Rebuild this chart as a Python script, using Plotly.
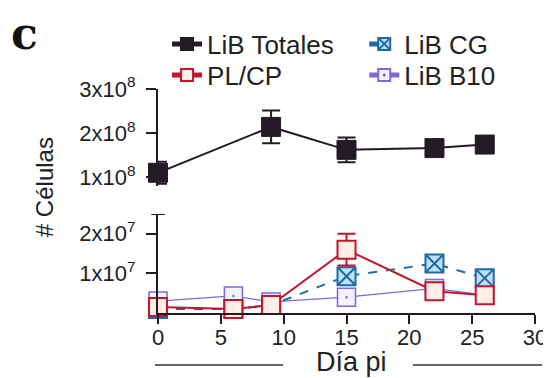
import plotly.graph_objects as go

# ---- data ----
days_total = [0, 9, 15, 22, 26]
lib_totales = [1.10e8, 2.14e8, 1.62e8, 1.66e8, 1.74e8]
lib_totales_err = [0.25e8, 0.37e8, 0.28e8, 0.10e8, 0.10e8]

days = [0, 6, 9, 15, 22, 26]
pl_cp = [0.15e7, 0.10e7, 0.20e7, 1.60e7, 0.55e7, 0.45e7]
pl_cp_err = [0.05e7, 0.05e7, 0.05e7, 0.40e7, 0.05e7, 0.05e7]
lib_cg = [0.10e7, 0.10e7, 0.20e7, 0.93e7, 1.25e7, 0.88e7]
lib_b10 = [0.30e7, 0.43e7, 0.28e7, 0.40e7, 0.62e7, 0.45e7]

x_ticks = [0, 5, 10, 15, 20, 25, 30]
upper_ticks = [1e8, 2e8, 3e8]
upper_ticktext = ["1x10<sup>8</sup>", "2x10<sup>8</sup>", "3x10<sup>8</sup>"]
lower_ticks = [1e7, 2e7]
lower_ticktext = ["1x10<sup>7</sup>", "2x10<sup>7</sup>"]

FONT = "Liberation Sans, Arial, sans-serif"
BLACK = "#231a26"
RED = "#c4152c"
BLUE = "#1f6aa5"
PURPLE = "#7a6ad8"

fig = go.Figure()

fig.add_trace(go.Scatter(
    x=days_total, y=lib_totales, name="LiB Totales", legend="legend",
    mode="lines+markers", xaxis="x", yaxis="y2", cliponaxis=False,
    line=dict(color=BLACK, width=2),
    marker=dict(symbol="square", size=19, color=BLACK, line=dict(color=BLACK, width=1)),
    error_y=dict(type="data", array=lib_totales_err, color=BLACK, thickness=2, width=9),
))
fig.add_trace(go.Scatter(
    x=days, y=lib_b10, name="LiB B10", legend="legend4",
    mode="lines+markers", xaxis="x", yaxis="y", cliponaxis=False,
    line=dict(color=PURPLE, width=1.2),
    marker=dict(symbol="square-dot", size=18, color="#f4f2ff", line=dict(color=PURPLE, width=1.5)),
))
fig.add_trace(go.Scatter(
    x=days, y=lib_cg, name="LiB CG", legend="legend2",
    mode="lines+markers", xaxis="x", yaxis="y", cliponaxis=False,
    line=dict(color=BLUE, width=2, dash="dash"),
    marker=dict(symbol="square-x", size=18, color="#bfe0f2", line=dict(color=BLUE, width=2)),
))
fig.add_trace(go.Scatter(
    x=days, y=pl_cp, name="PL/CP", legend="legend3",
    mode="lines+markers", xaxis="x", yaxis="y", cliponaxis=False,
    line=dict(color=RED, width=2),
    marker=dict(symbol="square", size=18, color="#fdeee6", line=dict(color=RED, width=2)),
    error_y=dict(type="data", array=pl_cp_err, color=RED, thickness=2, width=9),
))

axis_common = dict(showgrid=False, zeroline=False, showline=True, linecolor=BLACK,
                   linewidth=2, ticks="outside", tickwidth=2, tickcolor=BLACK,
                   tickfont=dict(family=FONT, size=22, color="#222"))


def leg(x, y):
    return dict(x=x, y=y, xanchor="left", yanchor="middle", orientation="v",
                font=dict(family=FONT, size=26, color="#222"),
                bgcolor="rgba(0,0,0,0)", itemsizing="constant")


fig.update_layout(
    width=543, height=370,
    margin=dict(l=150, r=16, t=81, b=65, autoexpand=False),
    paper_bgcolor="white", plot_bgcolor="white",
    showlegend=True,
    legend=leg(0.024, 1.201),
    legend2=leg(0.547, 1.201),
    legend3=leg(0.024, 1.062),
    legend4=leg(0.547, 1.062),
    xaxis=dict(range=[0, 30], tickvals=x_ticks, anchor="y", ticklen=9,
               ticklabelstandoff=-5, **axis_common),
    yaxis=dict(range=[0, 2.5e7], domain=[0, 0.442], tickvals=lower_ticks,
               ticktext=lower_ticktext, anchor="x", ticklen=10, ticklabelstandoff=6,
               **axis_common),
    yaxis2=dict(range=[0.8e8, 3e8], domain=[0.567, 1], tickvals=upper_ticks,
                ticktext=upper_ticktext, anchor="x", ticklen=10, ticklabelstandoff=6,
                **axis_common),
)

# top cap of the lower axis
fig.add_shape(type="line", xref="paper", yref="y", x0=-0.018, x1=0.018,
              y0=2.5e7, y1=2.5e7, line=dict(color=BLACK, width=2))

# x-axis title with rules
fig.add_annotation(text="Día pi", xref="paper", yref="paper", x=0.512, y=-0.218,
                   xanchor="center", yanchor="middle",
                   showarrow=False, font=dict(family=FONT, size=27, color="#222"))
fig.add_shape(type="line", xref="paper", yref="paper", x0=-0.008, x1=0.332,
              y0=-0.232, y1=-0.232, line=dict(color="#333", width=1.5))
fig.add_shape(type="line", xref="paper", yref="paper", x0=0.676, x1=1.019,
              y0=-0.232, y1=-0.232, line=dict(color="#333", width=1.5))

# y-axis title
fig.add_annotation(text="# Células", xref="paper", yref="paper", x=-0.302, y=0.5625,
                   xanchor="center", yanchor="middle", textangle=-90, showarrow=False,
                   font=dict(family=FONT, size=24, color="#222"))

# panel letter
fig.add_annotation(text="<b>c</b>", xref="paper", yref="paper",
                   x=-0.353, y=1.25, xanchor="center", yanchor="middle", showarrow=False,
                   font=dict(family="DejaVu Serif, serif", size=44, color="#111"))

fig.write_html("out.html")
